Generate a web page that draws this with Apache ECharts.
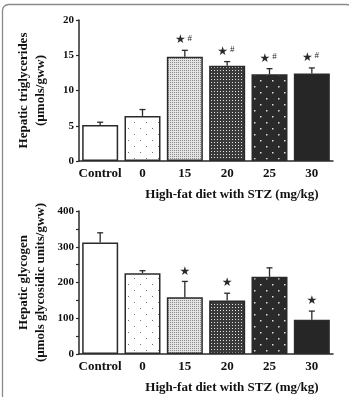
<!DOCTYPE html>
<html>
<head>
<meta charset="utf-8">
<script src="https://cdn.jsdelivr.net/npm/echarts@6/dist/echarts.min.js"></script>
<style>
  html, body { margin: 0; padding: 0; background: #fff; }
  #chart { width: 349px; height: 397px; }
</style>
</head>
<body>
<div id="chart"></div>
<script>
// doses of STZ, control first
const categories = ['Control', '0', '15', '20', '25', '30'];
// hepatic triglycerides (µmols/gww)
const tgMean = [5.1, 6.4, 14.8, 13.5, 12.3, 12.4];
const tgErr = [0.4, 0.9, 0.9, 0.6, 0.8, 0.8];
const tgStar = ['', '', '★', '★', '★', '★'];
const tgHash = ['', '', '#', '#', '#', '#'];
// hepatic glycogen (µmols glycosidic units/gww)
const glyMean = [312, 226, 159, 150, 216, 96];
const glyErr = [27, 7, 44, 20, 25, 24];
const glyStar = ['', '', '★', '★', '', '★'];

const serif = '"Liberation Serif", "Times New Roman", serif';
const ink = '#2a2a2a';

// small tiles for the bar fills
function tile(size, bg, dots, dotColor) {
    const c = document.createElement('canvas');
    c.width = size; c.height = size;
    const ctx = c.getContext('2d');
    ctx.fillStyle = bg;
    ctx.fillRect(0, 0, size, size);
    ctx.fillStyle = dotColor;
    dots.forEach(d => ctx.fillRect(d[0], d[1], d[2], d[2]));
    return { image: c, repeat: 'repeat' };
}
const fills = [
    '#ffffff',
    tile(12, '#ffffff', [[2, 2, 1], [8, 8, 1]], '#777'),
    tile(2, '#e4e4e4', [[0, 0, 1]], '#8a8a8a'),
    tile(3, '#3a3a3a', [[1, 1, 1]], '#e0e0e0'),
    tile(12, '#2a2a2a', [[2, 2, 1.5], [8, 8, 1.5]], '#dddddd'),
    '#262626'
];

function errorSeries(gridIdx, mean, err, star, hash) {
    return {
        type: 'custom',
        xAxisIndex: gridIdx,
        yAxisIndex: gridIdx,
        z: 5,
        data: mean.map((m, i) => [i, m, m + err[i]]),
        renderItem: function (params, api) {
            const lo = api.coord([api.value(0), api.value(1)]);
            const hi = api.coord([api.value(0), api.value(2)]);
            const x = lo[0];
            const kids = [
                { type: 'line', shape: { x1: x, y1: lo[1], x2: x, y2: hi[1] }, style: { stroke: ink, lineWidth: 1.3 } },
                { type: 'line', shape: { x1: x - 3, y1: hi[1], x2: x + 3, y2: hi[1] }, style: { stroke: ink, lineWidth: 1.3 } }
            ];
            const i = params.dataIndex;
            const h = hash ? hash[i] : '';
            if (star[i]) {
                kids.push({
                    type: 'text',
                    style: {
                        text: star[i], x: h ? x - 4.5 : x, y: hi[1] - 10,
                        align: 'center', verticalAlign: 'middle',
                        font: '12px "DejaVu Sans"', fill: ink
                    }
                });
            }
            if (h) {
                kids.push({
                    type: 'text',
                    style: {
                        text: h, x: x + 5, y: hi[1] - 12,
                        align: 'center', verticalAlign: 'middle',
                        font: '9px ' + serif, fill: ink
                    }
                });
            }
            return { type: 'group', children: kids };
        }
    };
}

function barSeries(gridIdx, mean) {
    return {
        type: 'bar',
        xAxisIndex: gridIdx,
        yAxisIndex: gridIdx,
        barWidth: 36,
        data: mean.map((v, i) => ({
            value: v,
            itemStyle: { color: fills[i], borderColor: ink, borderWidth: 1.5 }
        }))
    };
}

function xAxis(gridIdx) {
    return {
        type: 'category',
        gridIndex: gridIdx,
        data: categories,
        axisLine: { lineStyle: { color: ink, width: 1.5 } },
        axisTick: { show: false },
        axisLabel: { interval: 0, color: '#111', fontFamily: serif, fontWeight: 'bold', fontSize: 13, margin: 6 },
        name: 'High-fat diet with STZ (mg/kg)',
        nameLocation: 'middle',
        nameGap: 27,
        nameMoveOverlap: false,
        nameTextStyle: { color: '#111', fontFamily: serif, fontWeight: 'bold', fontSize: 13, padding: [0, 0, 0, 52] }
    };
}

function yAxis(gridIdx, max, interval, labelEvery, name) {
    return {
        type: 'value',
        gridIndex: gridIdx,
        min: 0,
        max: max,
        interval: interval,
        splitLine: { show: false },
        axisLine: { show: true, lineStyle: { color: ink, width: 1.5 } },
        axisTick: { show: true, length: 3, lineStyle: { color: ink, width: 1.2 } },
        axisLabel: {
            color: '#111', fontFamily: serif, fontWeight: 'bold', fontSize: 11, margin: 5,
            formatter: v => (v % labelEvery === 0 ? String(v) : '')
        },
        name: name,
        nameLocation: 'middle',
        nameRotate: 90,
        nameGap: 30,
        nameMoveOverlap: false,
        nameTextStyle: { color: '#111', fontFamily: serif, fontWeight: 'bold', fontSize: 13, lineHeight: 17 }
    };
}

const chart = echarts.init(document.getElementById('chart'), null, { renderer: 'canvas' });
chart.setOption({
    animation: false,
    backgroundColor: '#fff',
    grid: [
        { left: 79, right: 16, top: 20, height: 141, outerBoundsMode: 'none' },
        { left: 79, right: 16, top: 211, height: 143, outerBoundsMode: 'none' }
    ],
    xAxis: [xAxis(0), xAxis(1)],
    yAxis: [
        yAxis(0, 20, 5, 5, 'Hepatic triglycerides\n(µmols/gww)'),
        yAxis(1, 400, 50, 100, 'Hepatic glycogen\n(µmols glycosidic units/gww)')
    ],
    series: [
        barSeries(0, tgMean),
        errorSeries(0, tgMean, tgErr, tgStar, tgHash),
        barSeries(1, glyMean),
        errorSeries(1, glyMean, glyErr, glyStar, null)
    ],
    graphic: [{
        type: 'rect',
        silent: true,
        shape: { x: 2.5, y: 4.5, width: 350, height: 400, r: 6 },
        style: { fill: 'none', stroke: '#8a8a8a', lineWidth: 1.3 }
    }]
});
</script>
</body>
</html>
